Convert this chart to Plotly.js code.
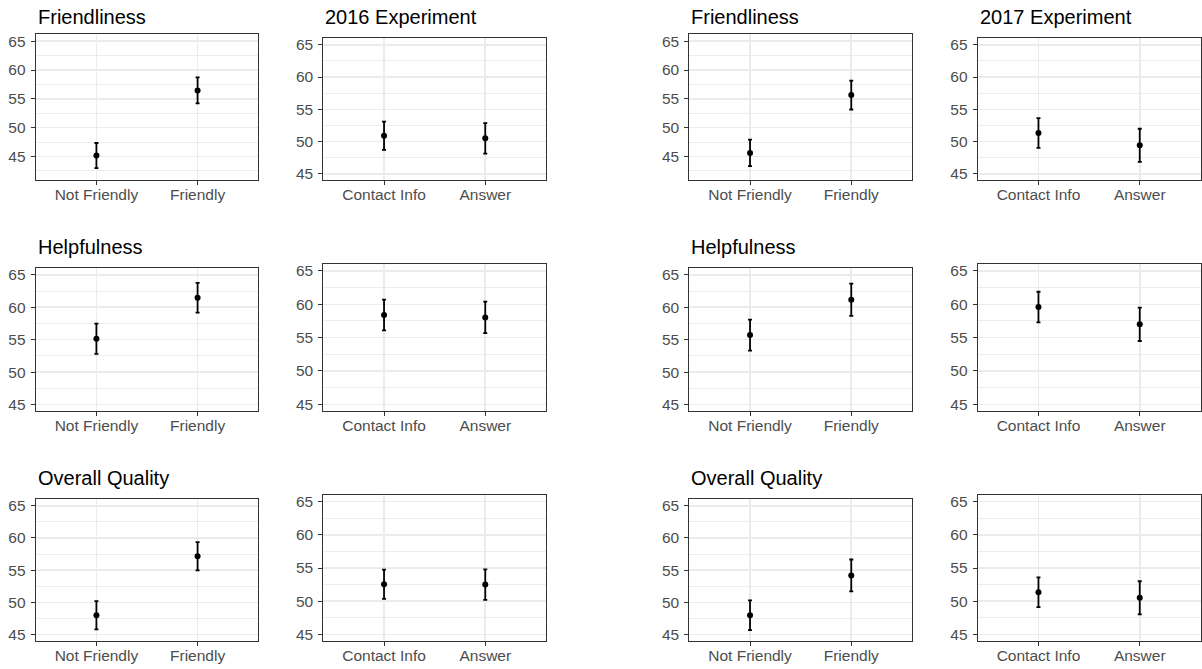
<!DOCTYPE html>
<html>
<head>
<meta charset="utf-8">
<script src="https://cdn.plot.ly/plotly-3.0.1.min.js"></script>
<style>html,body{margin:0;padding:0;background:#fff}#chart{width:1202px;height:669px}</style>
</head>
<body>
<div id="chart"></div>
<script>
// ---- Data ----
const friendCats = ['Not Friendly', 'Friendly'];
const expCats = ['Contact Info', 'Answer'];
const yTickVals = [45, 50, 55, 60, 65];

const titles = ['Friendliness', '2016 Experiment', 'Friendliness', '2017 Experiment',
                'Helpfulness', '', 'Helpfulness', '',
                'Overall Quality', '', 'Overall Quality', ''];

const friendliness2016Mean = [45.15, 56.46];
const friendliness2016Err  = [2.18, 2.27];
const friendlinessExp2016Mean = [50.9, 50.5];
const friendlinessExp2016Err  = [2.2, 2.36];
const friendliness2017Mean = [45.6, 55.64];
const friendliness2017Err  = [2.3, 2.5];
const friendlinessExp2017Mean = [51.33, 49.42];
const friendlinessExp2017Err  = [2.3, 2.57];

const helpfulness2016Mean = [55.15, 61.46];
const helpfulness2016Err  = [2.33, 2.3];
const helpfulnessExp2016Mean = [58.4, 58.03];
const helpfulnessExp2016Err  = [2.3, 2.36];
const helpfulness2017Mean = [55.7, 61.15];
const helpfulness2017Err  = [2.4, 2.5];
const helpfulnessExp2017Mean = [59.58, 57.0];
const helpfulnessExp2017Err  = [2.3, 2.5];

const quality2016Mean = [48.0, 57.16];
const quality2016Err  = [2.2, 2.2];
const qualityExp2016Mean = [52.55, 52.5];
const qualityExp2016Err  = [2.2, 2.3];
const quality2017Mean = [48.0, 54.18];
const quality2017Err  = [2.3, 2.47];
const qualityExp2017Mean = [51.35, 50.5];
const qualityExp2017Err  = [2.25, 2.5];

// ---- Panels ----
const panels = [
  {cats: friendCats, mean: friendliness2016Mean, err: friendliness2016Err},
  {cats: expCats, mean: friendlinessExp2016Mean, err: friendlinessExp2016Err},
  {cats: friendCats, mean: friendliness2017Mean, err: friendliness2017Err},
  {cats: expCats, mean: friendlinessExp2017Mean, err: friendlinessExp2017Err},
  {cats: friendCats, mean: helpfulness2016Mean, err: helpfulness2016Err},
  {cats: expCats, mean: helpfulnessExp2016Mean, err: helpfulnessExp2016Err},
  {cats: friendCats, mean: helpfulness2017Mean, err: helpfulness2017Err},
  {cats: expCats, mean: helpfulnessExp2017Mean, err: helpfulnessExp2017Err},
  {cats: friendCats, mean: quality2016Mean, err: quality2016Err},
  {cats: expCats, mean: qualityExp2016Mean, err: qualityExp2016Err},
  {cats: friendCats, mean: quality2017Mean, err: quality2017Err},
  {cats: expCats, mean: qualityExp2017Mean, err: qualityExp2017Err}
];

// layout geometry (pixels)
const W = 1202, H = 669;
const colX = [[35.7, 258.3], [323.3, 546], [689.3, 912], [977.7, 1200.5]];
const rowYOdd = [[34.3, 180.3], [268.3, 411], [499.3, 641]];   // columns 1 & 3
const rowYEven = [[38.3, 180.3], [264.3, 411], [495, 641]];    // columns 2 & 4
const titleBaseline = [24, 253.5, 485];

const yRangeWide = [40.85, 66.2];
const yRangeStd = [44, 66];

const traces = [];
const layout = {
  width: W, height: H,
  margin: {l: 0, r: 0, t: 0, b: 0},
  paper_bgcolor: '#fff', plot_bgcolor: '#fff',
  showlegend: false,
  font: {family: 'Liberation Sans, Arial, sans-serif'},
  annotations: []
};

panels.forEach((p, i) => {
  const row = Math.floor(i / 4), col = i % 4;
  const sfx = i === 0 ? '' : String(i + 1);
  const yr = (col % 2 === 0) ? rowYOdd[row] : rowYEven[row];
  traces.push({
    type: 'scatter', mode: 'markers',
    x: p.cats, y: p.mean,
    xaxis: 'x' + sfx, yaxis: 'y' + sfx,
    marker: {color: '#000', size: 6},
    error_y: {type: 'data', array: p.err, visible: true, color: '#000', thickness: 1.8, width: 2},
    hoverinfo: 'x+y'
  });
  layout['xaxis' + sfx] = {
    domain: [colX[col][0] / W, colX[col][1] / W],
    anchor: 'y' + sfx,
    type: 'category',
    categoryarray: p.cats, categoryorder: 'array',
    range: [-0.6, 1.6],
    showgrid: true, gridcolor: '#EBEBEB', gridwidth: 1.6,
    showline: true, mirror: true, linecolor: '#333333', linewidth: 1,
    ticks: 'outside', ticklen: 4, tickcolor: '#333333', tickwidth: 1,
    ticklabelstandoff: -4,
    tickfont: {size: 15.5, color: '#4D4D4D'},
    zeroline: false, fixedrange: true
  };
  layout['yaxis' + sfx] = {
    domain: [1 - yr[1] / H, 1 - yr[0] / H],
    anchor: 'x' + sfx,
    range: (row === 0 && col % 2 === 0) ? yRangeWide : yRangeStd,
    tickmode: 'array', tickvals: yTickVals,
    showgrid: true, gridcolor: '#EBEBEB', gridwidth: 1.6,
    minor: {tickmode: 'linear', tick0: 42.5, dtick: 5, showgrid: true, gridcolor: '#EBEBEB', gridwidth: 0.9, ticks: ''},
    showline: true, mirror: true, linecolor: '#333333', linewidth: 1,
    ticks: 'outside', ticklen: 4, tickcolor: '#333333', tickwidth: 1,
    ticklabelstandoff: 2,
    tickfont: {size: 15.5, color: '#4D4D4D'},
    zeroline: false, fixedrange: true
  };
  if (titles[i]) {
    layout.annotations.push({
      text: titles[i], xref: 'paper', yref: 'paper',
      x: colX[col][0] / W, xanchor: 'left',
      y: 1 - (titleBaseline[row] - 7) / H, yanchor: 'middle',
      showarrow: false,
      font: {size: 20, color: '#000'}
    });
  }
});

Plotly.newPlot('chart', traces, layout, {staticPlot: true, displayModeBar: false});
</script>
</body>
</html>
